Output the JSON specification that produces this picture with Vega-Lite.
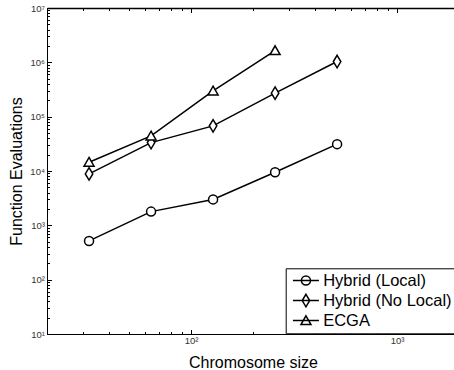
{
  "$schema": "https://vega.github.io/schema/vega-lite/v6.json",
  "width": 412,
  "height": 326,
  "autosize": {"type": "none"},
  "padding": {"left": 47, "top": 8, "right": 0, "bottom": 36},
  "background": "white",
  "config": {"view": {"stroke": "black", "strokeWidth": 1}, "font": "Liberation Sans"},
  "data": {"values": [
    {"series": "Hybrid (Local)", "size": 32, "evals": 516},
    {"series": "Hybrid (Local)", "size": 64, "evals": 1790},
    {"series": "Hybrid (Local)", "size": 128, "evals": 3000},
    {"series": "Hybrid (Local)", "size": 256, "evals": 9500},
    {"series": "Hybrid (Local)", "size": 512, "evals": 31200},
    {"series": "Hybrid (No Local)", "size": 32, "evals": 8850},
    {"series": "Hybrid (No Local)", "size": 64, "evals": 33300},
    {"series": "Hybrid (No Local)", "size": 128, "evals": 67700},
    {"series": "Hybrid (No Local)", "size": 256, "evals": 271000},
    {"series": "Hybrid (No Local)", "size": 512, "evals": 1035000},
    {"series": "ECGA", "size": 32, "evals": 14500},
    {"series": "ECGA", "size": 64, "evals": 44200},
    {"series": "ECGA", "size": 128, "evals": 298000},
    {"series": "ECGA", "size": 256, "evals": 1650000}
  ]},
  "layer": [
    {
      "mark": {"type": "line", "color": "black", "strokeWidth": 1.5},
      "encoding": {
        "x": {"field": "size", "type": "quantitative",
          "scale": {"type": "log", "domain": [20, 2000], "nice": false},
          "axis": {
            "title": "Chromosome size", "titleFontSize": 16, "titleFontWeight": "normal", "titleColor": "black", "titlePadding": 7,
            "values": [20,30,40,50,60,70,80,90,100,200,300,400,500,600,700,800,900,1000,2000],
            "labelExpr": "abs(log(datum.value)/LN10 - round(log(datum.value)/LN10)) < 1e-6 ? '10' + ['¹','²','³','⁴','⁵','⁶','⁷'][round(log(datum.value)/LN10)-1] : ''",
            "labelFontSize": 9.5, "labelColor": "#333", "labelPadding": 6, "labelOverlap": false, "labelFlush": false,
            "tickSize": {"condition": {"test": "abs(log(datum.value)/LN10 - round(log(datum.value)/LN10)) < 1e-6", "value": -4.5}, "value": -2.5},
            "tickColor": "black", "domainColor": "black", "grid": false
          }
        },
        "y": {"field": "evals", "type": "quantitative",
          "scale": {"type": "log", "domain": [10, 10000000], "nice": false},
          "axis": {
            "title": "Function Evaluations", "titleFontSize": 16, "titleFontWeight": "normal", "titleColor": "black", "titlePadding": 5,
            "values": [10,20,30,40,50,60,70,80,90,100,200,300,400,500,600,700,800,900,1000,2000,3000,4000,5000,6000,7000,8000,9000,10000,20000,30000,40000,50000,60000,70000,80000,90000,100000,200000,300000,400000,500000,600000,700000,800000,900000,1000000,2000000,3000000,4000000,5000000,6000000,7000000,8000000,9000000,10000000],
            "labelExpr": "abs(log(datum.value)/LN10 - round(log(datum.value)/LN10)) < 1e-6 ? '10' + ['¹','²','³','⁴','⁵','⁶','⁷'][round(log(datum.value)/LN10)-1] : ''",
            "labelFontSize": 9.5, "labelColor": "#333", "labelPadding": 7, "labelOverlap": false, "labelFlush": false,
            "tickSize": {"condition": {"test": "abs(log(datum.value)/LN10 - round(log(datum.value)/LN10)) < 1e-6", "value": -4.5}, "value": -2.5},
            "tickColor": "black", "domainColor": "black", "grid": false
          }
        },
        "detail": {"field": "series"}
      }
    },
    {
      "mark": {"type": "point", "filled": true, "fill": "white", "stroke": "black", "strokeWidth": 1.5, "size": 100, "opacity": 1},
      "encoding": {
        "x": {"field": "size", "type": "quantitative",
          "axis": {
            "orient": "top", "title": null, "labels": false,
            "values": [20,30,40,50,60,70,80,90,100,200,300,400,500,600,700,800,900,1000,2000],
            "tickSize": {"condition": {"test": "abs(log(datum.value)/LN10 - round(log(datum.value)/LN10)) < 1e-6", "value": -4.5}, "value": -2.5},
            "tickColor": "black", "domainColor": "black", "domainWidth": 1.5, "grid": false
          }
        },
        "y": {"field": "evals", "type": "quantitative"},
        "shape": {"field": "series", "type": "nominal",
          "scale": {
            "domain": ["Hybrid (Local)", "Hybrid (No Local)", "ECGA"],
            "range": ["M0.9,0A0.9,0.9 0 1,1 -0.9,0A0.9,0.9 0 1,1 0.9,0Z", "M0,-1.25L0.75,0L0,1.25L-0.75,0Z", "M0,-0.95L1,0.8L-1,0.8Z"]
          },
          "legend": null
        }
      }
    },
    {
      "transform": [{"filter": "false"}],
      "mark": {"type": "point", "filled": false, "stroke": "black", "strokeWidth": 1.5, "size": 100, "opacity": 1},
      "encoding": {
        "x": {"field": "size", "type": "quantitative", "axis": null},
        "y": {"field": "evals", "type": "quantitative"},
        "shape": {"field": "series", "type": "nominal",
          "scale": {
            "domain": ["Hybrid (Local)", "Hybrid (No Local)", "ECGA"],
            "range": ["M-2.6,0H2.6M0.9,0A0.9,0.9 0 1,1 -0.9,0A0.9,0.9 0 1,1 0.9,0Z", "M-2.6,0H2.6M0,-1.25L0.75,0L0,1.25L-0.75,0Z", "M-2.6,0H2.6M0,-0.95L1,0.8L-1,0.8Z"]
          },
          "legend": {
            "orient": "none", "legendX": 238.7, "legendY": 260.3, "title": null,
            "padding": 4, "strokeColor": "black", "fillColor": "white", "cornerRadius": 0,
            "labelFontSize": 16.5, "labelColor": "black", "labelFont": "Liberation Sans",
            "symbolSize": 100, "symbolOffset": 8, "labelOffset": 9, "rowPadding": 2,
            "symbolFillColor": "transparent", "symbolStrokeColor": "black", "symbolStrokeWidth": 1.5, "symbolOpacity": 1,
            "encode": {"legend": {"update": {"strokeWidth": {"value": 1.5}}}}
          }
        }
      }
    }
  ],
  "resolve": {"axis": {"x": "independent"}, "scale": {"shape": "independent"}}
}
